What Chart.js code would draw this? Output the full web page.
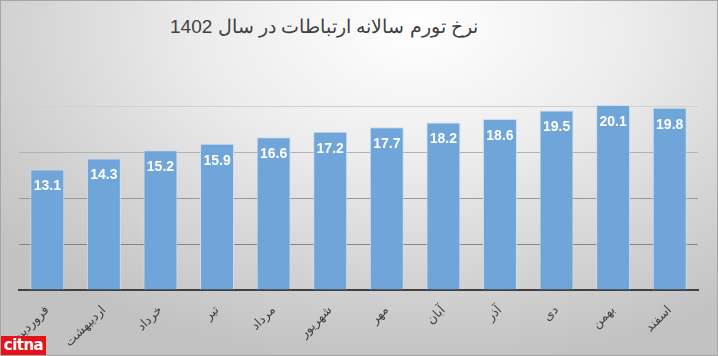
<!DOCTYPE html>
<html>
<head>
<meta charset="utf-8">
<script src="https://cdn.jsdelivr.net/npm/chart.js@4"></script>
<style>
  html, body { margin: 0; padding: 0; }
  #wrap {
    position: relative;
    width: 718px;
    height: 356px;
    box-sizing: border-box;
    border: 1px solid #a6a6a6;
    background: radial-gradient(ellipse 75% 95% at 58% 8%, #ffffff 0%, #ececec 40%, #d6d6d6 70%, #c2c2c2 100%);
    overflow: hidden;
  }
  #title {
    position: absolute;
    left: 0;
    width: 646px;
    top: 14px;
    text-align: center;
    font-family: "Liberation Sans", Arial, sans-serif;
    font-size: 19px;
    color: #404040;
    direction: rtl;
  }
  #logo {
    position: absolute;
    left: 0;
    bottom: 0;
    width: 45px;
    height: 19px;
    background: #e3121b;
    color: #fff;
    font-family: "DejaVu Sans", sans-serif;
    font-weight: bold;
    font-size: 15px;
    line-height: 18px;
    text-align: center;
    letter-spacing: -0.5px;
  }
  canvas { position: absolute; left: 0; top: 0; }
</style>
</head>
<body>
<div id="wrap">
  <div id="title">نرخ تورم سالانه ارتباطات در سال 1402</div>
  <canvas id="barChart" width="716" height="354"></canvas>
  <div id="logo">citna</div>
</div>
<script>
// months of 1402 (Persian calendar)
const months = ["فروردین", "اردیبهشت", "خرداد", "تیر", "مرداد", "شهریور", "مهر", "آبان", "آذر", "دی", "بهمن", "اسفند"];
const inflation = [13.1, 14.3, 15.2, 15.9, 16.6, 17.2, 17.7, 18.2, 18.6, 19.5, 20.1, 19.8];
const yTicks = [0, 5, 10, 15, 20];

// white value labels inside the top of each bar
const valueLabels = {
  id: "valueLabels",
  afterDatasetsDraw(chart) {
    const ctx = chart.ctx;
    const meta = chart.getDatasetMeta(0);
    ctx.save();
    ctx.fillStyle = "#ffffff";
    ctx.font = "bold 14px 'Liberation Sans', Arial, sans-serif";
    ctx.textAlign = "center";
    ctx.textBaseline = "middle";
    meta.data.forEach((bar, i) => {
      ctx.fillText(inflation[i].toFixed(1), bar.x, bar.y + 17);
    });
    ctx.restore();
  }
};

const gridColors = ["#404040", "#858585", "#989898", "#b2b2b2", "#d0d0d0"];

const chart = new Chart(document.getElementById("barChart"), {
  type: "bar",
  data: {
    labels: months,
    datasets: [
      {
        data: inflation,
        backgroundColor: "#6fa5d8",
        borderColor: "#c9def2",
        borderWidth: 1,
        categoryPercentage: 0.6,
        barPercentage: 1,
        clip: false,
      },
    ],
  },
  options: {
    responsive: false,
    animation: false,
    layout: { padding: { left: 18, right: 19, top: 105, bottom: 0 } },
    plugins: {
      legend: { display: false },
      tooltip: { enabled: false },
    },
    scales: {
      x: {
        grid: { display: false },
        border: { color: "#404040", width: 2 },
        ticks: {
          color: "#404040",
          font: { family: "'DejaVu Sans', sans-serif", size: 12.5 },
          minRotation: 45,
          maxRotation: 45,
          padding: 5,
        },
        afterFit: (scale) => { scale.height = 65; },
      },
      y: {
        min: 0,
        max: 20,
        afterBuildTicks: (scale) => { scale.ticks = yTicks.map((v) => ({ value: v })); },
        ticks: { display: false },
        border: { display: false },
        grid: {
          drawTicks: false,
          color: (c) => gridColors[c.index] || "#b0b0b0",
          lineWidth: 1,
        },
        afterFit: (scale) => { scale.width = 0; },
      },
    },
  },
  plugins: [valueLabels],
});
</script>
</body>
</html>
